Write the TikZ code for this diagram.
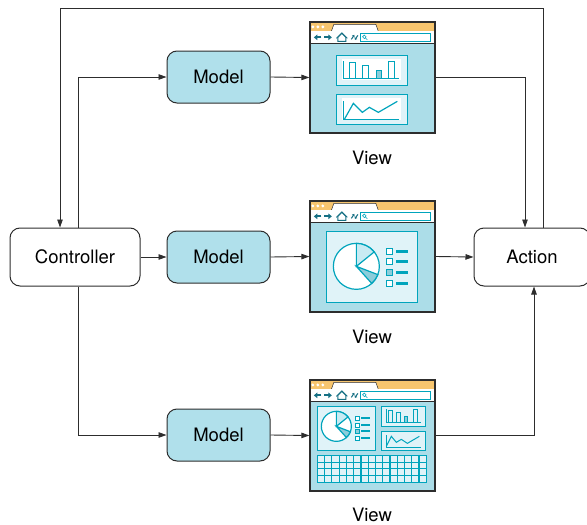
\documentclass[tikz,border=0pt]{standalone}
\usepackage{fontspec}
\setmainfont{TeX Gyre Heros}
\usetikzlibrary{arrows.meta,backgrounds}

\definecolor{frame}{RGB}{45,45,45}
\definecolor{boxblue}{RGB}{176,224,235}
\definecolor{screen}{RGB}{172,221,232}
\definecolor{panel}{RGB}{224,243,248}
\definecolor{mvcteal}{RGB}{0,164,188}
\definecolor{tabbar}{RGB}{247,197,110}
\definecolor{icon}{RGB}{22,112,132}
\definecolor{slicelight}{RGB}{200,235,243}
\definecolor{slicedark}{RGB}{140,205,218}

% window chrome of a small browser, drawn in local coordinates (125 x 111)
\newcommand{\browserchrome}{%
  \fill[screen] (0,0) rectangle (125,111);
  \fill[tabbar] (0,0) rectangle (125,10);
  \filldraw[fill=white,draw=frame,line width=0.5pt] (22,10) -- (24.5,3) -- (66.5,3) -- (69,10);
  \foreach \d in {3.5,8.5,13.5} \fill[white] (\d,5.6) circle (1.6pt);
  \fill[white] (0,10) rectangle (125,22);
  \draw[frame,line width=1pt] (0,22) -- (125,22);
  \draw[icon,line width=2pt,-{Triangle[length=3.5pt,width=5.5pt]}] (12,16) -- (4.5,16);
  \draw[icon,line width=2pt,-{Triangle[length=3.5pt,width=5.5pt]}] (15,16) -- (22.5,16);
  \draw[icon,line width=0.8pt] (28.5,20) -- (28.5,16) -- (32.5,12) -- (36.5,16) -- (36.5,20) -- cycle;
  \draw[icon,line width=0.8pt] (27,17) -- (32.5,11.5) -- (38,17);
  \draw[icon,line width=1.1pt,-{Triangle[length=2pt,width=3pt]}] (42,18) -- (45,13.5);
  \draw[icon,line width=1.1pt,-{Triangle[length=2pt,width=3pt]}] (48.5,14) -- (45.5,18.5);
  \filldraw[draw=mvcteal,fill=white,line width=1pt] (51,12) rectangle (121,20);
  \draw[mvcteal,line width=0.6pt] (55,15.5) circle (1.8pt) (56.3,16.8) -- (58,18.5);
}

\begin{document}
\begin{tikzpicture}[x=1pt,y=-1pt,
    every node/.style={font=\fontsize{18.5}{20}\selectfont},
    rbox/.style={draw=frame,line width=1pt,rounded corners=10pt,minimum height=58pt},
    model/.style={rbox,fill=boxblue,minimum width=103pt,minimum height=52pt},
    viewbox/.style={draw=frame,line width=1.3pt,minimum width=125pt,minimum height=111pt,inner sep=0pt},
    arr/.style={draw=frame,line width=0.9pt,-{Triangle[length=8pt,width=5.5pt]}},
    panelbox/.style={draw=mvcteal,line width=1.4pt,fill=panel},
    chart/.style={draw=mvcteal,line width=1.2pt}]
  \useasboundingbox (0,0) rectangle (587,525);

  \node[rbox,minimum width=130pt] (ctrl) at (75,257) {Controller};
  \node[rbox,minimum width=116pt] (action) at (532,257) {Action};

  \node[model] (model1) at (218.5,77) {Model};
  \node[model] (model2) at (218.5,257) {Model};
  \node[model] (model3) at (218.5,435) {Model};

  \node[viewbox] (view1) at (372.5,77.5) {};
  \node[viewbox] (view2) at (372.5,256.5) {};
  \node[viewbox] (view3) at (372.5,435.5) {};
  \node (label1) at (372,158) {View};
  \node (label2) at (372,337) {View};
  \node (label3) at (372,515) {View};

  % bar chart and line chart
  \begin{scope}[on background layer,shift={(view1.north west)}]
    \browserchrome
    \draw[panelbox] (27,34) rectangle (98,64);
    \fill[white] (33,38) rectangle (92,59);
    \draw[chart] (40,57) rectangle (46,41) (53,57) rectangle (59,44) (79,57) rectangle (85,40);
    \filldraw[chart,fill=slicedark] (67,57) rectangle (72,49);
    \draw[chart] (34,40) -- (34,57) -- (90,57);
    \draw[panelbox] (27,73) rectangle (98,103);
    \fill[white] (33,77) rectangle (92,99);
    \draw[chart] (34,80) -- (34,98) -- (90,98);
    \draw[chart] (35,98) -- (44,82) -- (53,91) -- (60,86) -- (69,91) -- (88,80);
  \end{scope}

  % pie chart with legend
  \begin{scope}[on background layer,shift={(view2.north west)}]
    \browserchrome
    \draw[panelbox] (17,31) rectangle (108,102);
    \filldraw[chart,fill=white] (47,66) circle (23pt);
    \filldraw[chart,fill=slicelight] (47,66) -- ++(90:23pt) arc[start angle=90,end angle=39,radius=23pt] -- cycle;
    \filldraw[chart,fill=slicedark] (47,66) -- ++(-21:23pt) arc[start angle=-21,end angle=-48,radius=23pt] -- cycle;
    \foreach \yy/\c in {51/white,61/white,72/slicedark,83/white} {
      \filldraw[chart,fill=\c] (77,\yy-3) rectangle (83,\yy+3);
      \draw[mvcteal,line width=2.5pt] (87,\yy) -- (99,\yy);
    }
  \end{scope}

  % dashboard: pie, bars, line and a table
  \begin{scope}[on background layer,shift={(view3.north west)}]
    \browserchrome
    \draw[panelbox] (8,27) rectangle (66,71);
    \filldraw[chart,fill=white] (27,47) circle (15pt);
    \filldraw[chart,fill=slicelight] (27,47) -- ++(90:15pt) arc[start angle=90,end angle=39,radius=15pt] -- cycle;
    \filldraw[chart,fill=slicedark] (27,47) -- ++(-21:15pt) arc[start angle=-21,end angle=-48,radius=15pt] -- cycle;
    \foreach \yy/\c in {39/white,46/white,52/slicedark,59/white} {
      \filldraw[chart,line width=1pt,fill=\c] (46,\yy-2) rectangle (50,\yy+2);
      \draw[mvcteal,line width=2pt] (52,\yy) -- (61,\yy);
    }
    \draw[panelbox] (72,27) rectangle (116,47);
    \draw[chart,line width=1pt] (79,43) rectangle (83,31) (87,43) rectangle (91,33) (104,43) rectangle (108,30);
    \filldraw[chart,line width=1pt,fill=slicedark] (95,43) rectangle (98,37);
    \draw[chart,line width=1pt] (77,30) -- (77,43) -- (112,43);
    \draw[panelbox] (72,52) rectangle (116,71);
    \draw[chart,line width=1pt] (77,56) -- (77,68) -- (112,68);
    \draw[chart,line width=1pt] (77,67) -- (82,57) -- (87,63) -- (92,60) -- (98,64) -- (110,57);
    \draw[panelbox] (8,76) rectangle (117,103);
    \foreach \i in {1,...,14} \draw[chart] (8+\i*109/15,76) -- (8+\i*109/15,103);
    \foreach \j in {1,2,3} \draw[chart] (8,76+\j*27/4) -- (117,76+\j*27/4);
  \end{scope}

  % connectors
  \coordinate (loop) at (60,8);
  \draw[arr] ([xshift=11pt]action.north) |- (loop) -- ([xshift=-15pt]ctrl.north);
  \draw[arr] ([xshift=3pt]ctrl.north) |- (model1.west);
  \draw[arr] (ctrl.east) -- (model2.west);
  \draw[arr] ([xshift=3pt]ctrl.south) |- (model3.west);
  \foreach \i in {1,2,3} \draw[arr] (model\i.east) -- (view\i.west);
  \draw[arr] (view1.east) -| ([xshift=-7pt]action.north);
  \draw[arr] (view2.east) -- (action.west);
  \draw[arr] (view3.east) -| ([xshift=2pt]action.south);
\end{tikzpicture}
\end{document}
